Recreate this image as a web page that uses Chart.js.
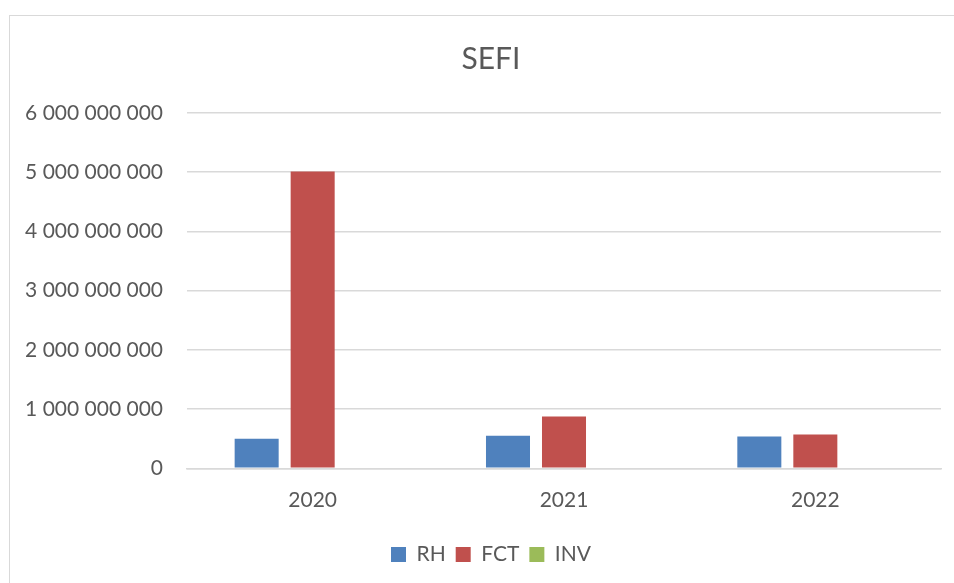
<!DOCTYPE html>
<html>
<head>
<meta charset="utf-8">
<script src="https://cdn.jsdelivr.net/npm/chart.js@4.4.1/dist/chart.umd.min.js"></script>
<style>
  html, body { margin: 0; padding: 0; background: #ffffff; overflow: hidden; }
  body { width: 954px; height: 583px; position: relative; }
  #frame { position: absolute; left: 9px; top: 15px; width: 1000px; height: 700px;
           border: 1px solid #d9d9d9; box-sizing: border-box; }
  #wrap { position: absolute; left: 0; top: 0; width: 980px; height: 583px; }
</style>
</head>
<body>
<div id="frame"></div>
<div id="wrap"><canvas id="c" width="980" height="583"></canvas></div>
<script>
const title = 'SEFI';
const categories = ['2020', '2021', '2022'];
const seriesNames = ['RH', 'FCT', 'INV'];
const rhValues = [497000000, 548000000, 536000000];
const fctValues = [5010000000, 875000000, 570000000];
const invValues = [0, 0, 0];
const yTicks = [0, 1000000000, 2000000000, 3000000000, 4000000000, 5000000000, 6000000000];
const colors = ['#4F81BD', '#C0504D', '#9BBB59'];

const fmt = v => String(Math.round(v)).replace(/\B(?=(\d{3})+(?!\d))/g, ' ');
const FONT = "Lato, 'Open Sans', 'Liberation Sans', sans-serif";
const TXT = '#595959';

const seriesValues = [rhValues, fctValues, invValues];
const datasets = seriesNames.map((n, i) => ({
  label: n,
  data: seriesValues[i],
  backgroundColor: colors[i],
  borderWidth: 0,
  categoryPercentage: 0.6685,
  barPercentage: 0.786
}));

new Chart(document.getElementById('c'), {
  type: 'bar',
  data: { labels: categories, datasets },
  options: {
    responsive: false,
    animation: false,
    layout: { padding: { left: 20, right: 18, top: 15, bottom: 8 } },
    plugins: {
      title: {
        display: true, text: title, color: TXT,
        font: { family: FONT, size: 30, weight: 'normal' },
        padding: { top: 26, bottom: 36 }
      },
      legend: {
        position: 'bottom',
        labels: {
          color: TXT, boxWidth: 15, boxHeight: 15, padding: 10,
          font: { family: FONT, size: 21 }
        }
      },
      tooltip: { enabled: false }
    },
    scales: {
      x: {
        afterFit: s => { s.height += 2.5; },
        grid: { display: false, drawTicks: false },
        border: { display: true, color: '#d9d9d9', width: 1.5 },
        ticks: { color: TXT, font: { family: FONT, size: 21 }, padding: 19 }
      },
      y: {
        min: 0, max: 6000000000,
        afterFit: s => { s.width = 167; },
        afterBuildTicks: s => { s.ticks = yTicks.map(v => ({ value: v })); },
        grid: { color: '#d9d9d9', lineWidth: 1.5, drawTicks: false },
        border: { display: false },
        ticks: { color: TXT, font: { family: FONT, size: 21 }, padding: 24, callback: v => fmt(v) }
      },
      ySpacer: {
        position: 'right',
        display: true,
        afterFit: s => { s.width = 21; },
        grid: { display: false, drawTicks: false },
        border: { display: false },
        ticks: { display: false }
      }
    }
  }
});
</script>
</body>
</html>
